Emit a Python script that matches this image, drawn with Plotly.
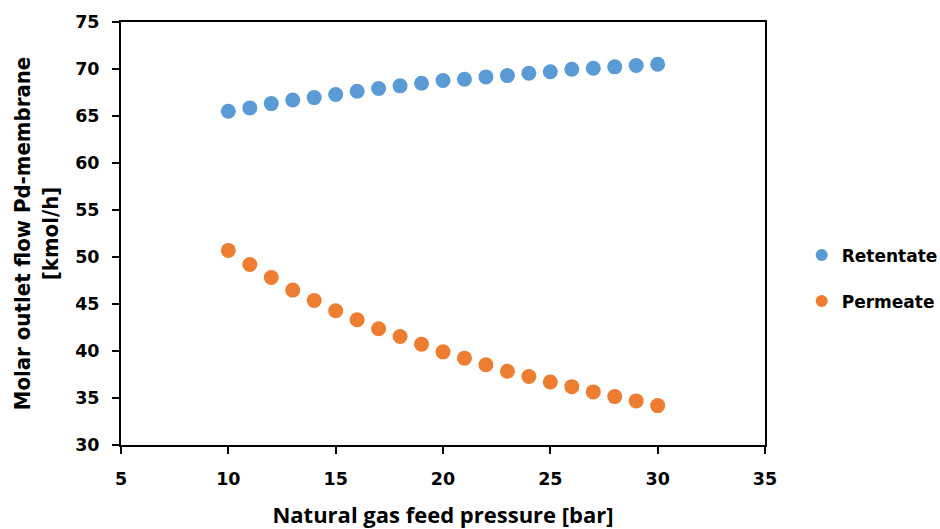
import plotly.graph_objects as go

pressure = list(range(10, 31))
retentate = [65.50, 65.86, 66.32, 66.71, 66.96, 67.28, 67.63, 67.92, 68.21, 68.48, 68.77,
             68.91, 69.16, 69.30, 69.55, 69.70, 69.97, 70.08, 70.23, 70.37, 70.51]
permeate = [50.70, 49.21, 47.82, 46.48, 45.37, 44.28, 43.32, 42.36, 41.54, 40.73, 39.91,
            39.24, 38.53, 37.85, 37.28, 36.71, 36.21, 35.65, 35.15, 34.69, 34.19]

x_ticks = [5, 10, 15, 20, 25, 30, 35]
y_ticks = [30, 35, 40, 45, 50, 55, 60, 65, 70, 75]

BLUE = "#5B9BD5"
ORANGE = "#ED7D31"
COND = "DejaVu Sans Condensed, DejaVu Sans"
TICK_FONT = dict(family="DejaVu Sans", size=17.5, color="#000000", weight="bold")

fig = go.Figure()
fig.add_trace(go.Scatter(x=pressure, y=retentate, mode="markers", name="Retentate",
                         legendgroup="a",
                         marker=dict(color=BLUE, size=15, line=dict(width=0))))
fig.add_trace(go.Scatter(x=pressure, y=permeate, mode="markers", name="Permeate",
                         legendgroup="b",
                         marker=dict(color=ORANGE, size=15, line=dict(width=0))))

fig.update_layout(
    width=940, height=529,
    margin=dict(l=121, r=175, t=22, b=84, autoexpand=False),
    paper_bgcolor="white", plot_bgcolor="white",
    showlegend=True,
    legend=dict(x=1.057, xanchor="left", y=0.394, yanchor="middle",
                font=dict(family="DejaVu Sans", size=17, color="#000000", weight="bold"),
                traceorder="grouped", tracegroupgap=21,
                bgcolor="rgba(0,0,0,0)", itemsizing="constant"),
    xaxis=dict(range=[5, 35], tickmode="array", tickvals=x_ticks,
               ticktext=[str(v) for v in x_ticks],
               showgrid=False, zeroline=False,
               showline=True, linecolor="#000000", linewidth=2, mirror=True,
               ticks="outside", ticklen=7, tickwidth=2, tickcolor="#000000",
               tickfont=TICK_FONT, ticklabelstandoff=10,
               title=dict(text="Natural gas feed pressure [bar]",
                          font=dict(family="Open Sans", size=22, color="#000000",
                                    weight="bold"),
                          standoff=21)),
    yaxis=dict(range=[30, 75], tickmode="array", tickvals=y_ticks,
               ticktext=[str(v) for v in y_ticks],
               showgrid=False, zeroline=False,
               showline=True, linecolor="#000000", linewidth=2, mirror=True,
               ticks="outside", ticklen=7, tickwidth=2, tickcolor="#000000",
               tickfont=TICK_FONT, ticklabelstandoff=9,
               title=dict(text="Molar outlet flow Pd-membrane<br>[kmol/h]",
                          font=dict(family=COND, size=22, color="#000000",
                                    weight="bold"),
                          standoff=10)),
)

fig.write_html("out.html", config={"displayModeBar": False},
               post_script="document.body.style.margin='0';")
